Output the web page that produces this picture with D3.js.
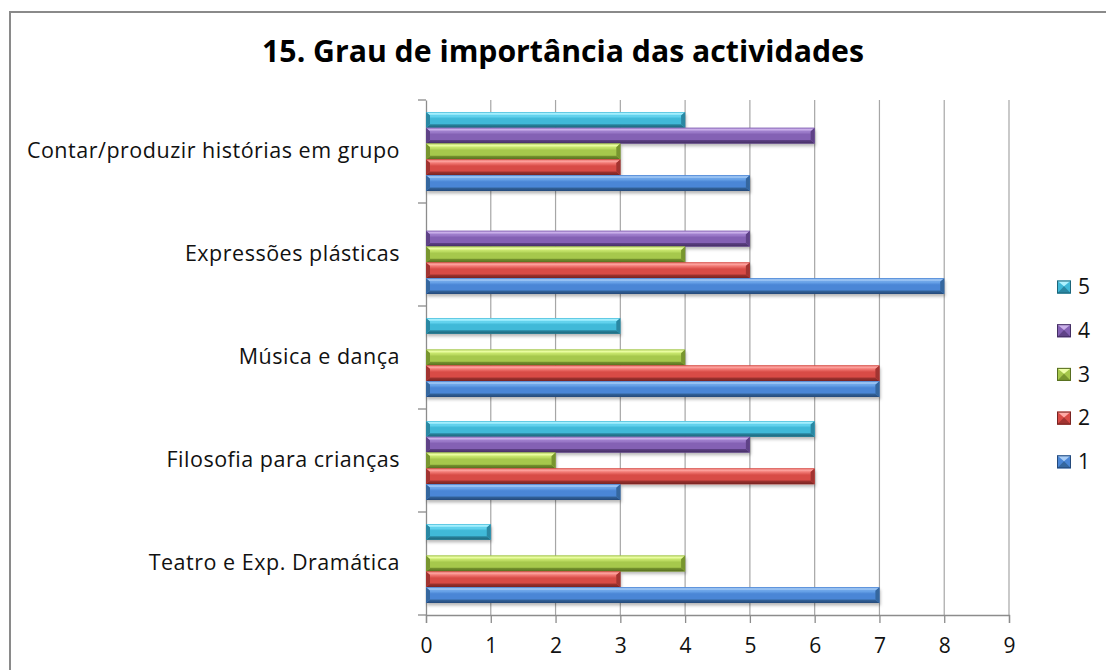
<!DOCTYPE html>
<html>
<head>
<meta charset="utf-8">
<script src="https://cdn.jsdelivr.net/npm/d3@7"></script>
<style>
  html, body { margin: 0; padding: 0; background: #fff; }
  svg { display: block; }
  text { font-family: "Open Sans", Lato, sans-serif; }
</style>
</head>
<body>
<svg id="chart" width="1106" height="670"></svg>
<script>
// Activities, listed top to bottom
const categories = [
  "Contar/produzir histórias em grupo",
  "Expressões plásticas",
  "Música e dança ",
  "Filosofia para crianças",
  "Teatro e Exp. Dramática"
];
// Importance levels (series), bar order top to bottom inside each group
const seriesNames = ["5", "4", "3", "2", "1"];
// Number of answers per level, aligned with categories
const level1 = [5, 8, 7, 3, 7];
const level2 = [3, 5, 7, 6, 3];
const level3 = [3, 4, 4, 2, 4];
const level4 = [6, 5, 0, 5, 0];
const level5 = [4, 0, 3, 6, 1];
const xTicks = [0, 1, 2, 3, 4, 5, 6, 7, 8, 9];
const title = "15. Grau de importância das actividades";

const seriesValues = { "1": level1, "2": level2, "3": level3, "4": level4, "5": level5 };

// Shades for the bevelled bars: [highlight, light, face, dark, edge]
const palette = {
  "1": ["#a9cdf6", "#6fa9ec", "#4a86d6", "#35679f", "#24497a"],
  "2": ["#ffaaa6", "#f27a75", "#d84b46", "#a23431", "#762321"],
  "3": ["#eeffa8", "#cdeb72", "#a6c84c", "#78962f", "#566d20"],
  "4": ["#cbb1ea", "#a585d2", "#8461b4", "#5f4287", "#432e62"],
  "5": ["#aef2ff", "#6fdcf6", "#40b9d8", "#2a88a3", "#1d6478"]
};

const svg = d3.select("#chart");
const defs = svg.append("defs");

const shadow = defs.append("filter").attr("id", "barShadow")
  .attr("x", "-5%").attr("y", "-30%").attr("width", "110%").attr("height", "180%");
shadow.append("feDropShadow").attr("dx", 1).attr("dy", 2.5).attr("stdDeviation", 1.8)
  .attr("flood-color", "#000").attr("flood-opacity", 0.28);

seriesNames.forEach(s => {
  const c = palette[s];
  const g = defs.append("linearGradient").attr("id", "face" + s)
    .attr("x1", 0).attr("y1", 0).attr("x2", 0).attr("y2", 1);
  [[0, c[1]], [0.35, c[2]], [1, c[2]]].forEach(([o, col]) =>
    g.append("stop").attr("offset", o).attr("stop-color", col));
  const t = defs.append("linearGradient").attr("id", "top" + s)
    .attr("x1", 0).attr("y1", 0).attr("x2", 0).attr("y2", 1);
  [[0, c[2]], [0.45, c[0]], [1, c[1]]].forEach(([o, col]) =>
    t.append("stop").attr("offset", o).attr("stop-color", col));
  const b = defs.append("linearGradient").attr("id", "bot" + s)
    .attr("x1", 0).attr("y1", 0).attr("x2", 0).attr("y2", 1);
  [[0, c[3]], [1, c[4]]].forEach(([o, col]) =>
    b.append("stop").attr("offset", o).attr("stop-color", col));
});

// Chart frame
svg.append("rect").attr("x", 10).attr("y", 12).attr("width", 1200).attr("height", 800)
  .attr("fill", "none").attr("stroke", "#8a8a8a").attr("stroke-width", 2);

// Scales
const x = d3.scaleLinear().domain([0, 9]).range([426, 1009]);
const y = d3.scaleBand().domain(categories).range([100, 615]).paddingInner(0).paddingOuter(0);
const inner = d3.scaleBand().domain(seriesNames)
  .range([12, y.bandwidth() - 12]).padding(0);

// Title
svg.append("text").attr("x", 563).attr("y", 62).attr("text-anchor", "middle")
  .attr("font-size", 27).attr("font-weight", "bold").attr("fill", "#000")
  .attr("font-family", "Lato, 'Open Sans', sans-serif")
  .attr("class", "fit").attr("data-w", 602).text(title);

// Vertical gridlines
const grid = svg.append("g");
grid.selectAll("line").data(xTicks.slice(1)).join("line")
  .attr("x1", d => x(d)).attr("x2", d => x(d))
  .attr("y1", 100).attr("y2", 615)
  .attr("stroke", "#a6a6a6").attr("stroke-width", 1.2);

// Bottom value axis
const xAxis = svg.append("g").attr("transform", "translate(0,615)")
  .call(d3.axisBottom(x).tickValues(xTicks).tickSize(8).tickPadding(15).tickFormat(d3.format("d")));
xAxis.select(".domain").attr("stroke", "#8c8c8c").attr("stroke-width", 1.3);
xAxis.selectAll(".tick line").attr("stroke", "#8c8c8c").attr("stroke-width", 1.3);
xAxis.selectAll(".tick text").attr("font-size", 21).attr("fill", "#111")
  .attr("font-family", "'Open Sans', Lato, sans-serif");

// Left category axis
const yAxis = svg.append("g").attr("transform", "translate(426,0)")
  .call(d3.axisLeft(y).tickSize(0).tickPadding(26));
yAxis.select(".domain").attr("stroke", "#8c8c8c").attr("stroke-width", 1.3);
const catLabels = yAxis.selectAll(".tick text").attr("font-size", 21.5).attr("fill", "#111")
  .attr("font-family", "'Open Sans', Lato, sans-serif")
  .attr("dy", "0.32em");
// Spread category labels so the longest one spans its measured width
{
  const first = catLabels.nodes()[0];
  const len = first.getComputedTextLength();
  const n = categories[0].length;
  const ls = (373 - len) / n;
  catLabels.attr("letter-spacing", ls.toFixed(2) + "px");
}
// Category separators
const seps = [...categories.map(c => y(c)), y.range()[1]];
svg.append("g").selectAll("line").data(seps).join("line")
  .attr("x1", 418).attr("x2", 426).attr("y1", d => d).attr("y2", d => d)
  .attr("stroke", "#8c8c8c").attr("stroke-width", 1.3);

// Bevelled bar drawing
function bevelBar(g, s, x0, x1, y0, h) {
  const b = Math.min(4, (x1 - x0) / 3);
  const bv = 3.6;
  const c = palette[s];
  g.append("rect").attr("x", x0).attr("y", y0).attr("width", x1 - x0).attr("height", h)
    .attr("fill", c[2]).attr("filter", "url(#barShadow)");
  g.append("rect").attr("x", x0 + b).attr("y", y0 + bv).attr("width", Math.max(0, x1 - x0 - 2 * b))
    .attr("height", h - 2 * bv).attr("fill", `url(#face${s})`);
  // top facet
  g.append("polygon").attr("points", [[x0, y0], [x1, y0], [x1 - b, y0 + bv], [x0 + b, y0 + bv]].join(" "))
    .attr("fill", `url(#top${s})`);
  // bottom facet
  g.append("polygon").attr("points", [[x0 + b, y0 + h - bv], [x1 - b, y0 + h - bv], [x1, y0 + h], [x0, y0 + h]].join(" "))
    .attr("fill", `url(#bot${s})`);
  // left facet
  g.append("polygon").attr("points", [[x0, y0], [x0 + b, y0 + bv], [x0 + b, y0 + h - bv], [x0, y0 + h]].join(" "))
    .attr("fill", c[3]);
  // right facet
  g.append("polygon").attr("points", [[x1, y0], [x1, y0 + h], [x1 - b, y0 + h - bv], [x1 - b, y0 + bv]].join(" "))
    .attr("fill", c[3]);
}

const bars = svg.append("g");
categories.forEach((cat, i) => {
  seriesNames.forEach(s => {
    const v = seriesValues[s][i];
    if (!v) return;
    const g = bars.append("g");
    bevelBar(g, s, x(0), x(v), y(cat) + inner(s), inner.bandwidth());
  });
});

// Legend
const legend = svg.append("g");
seriesNames.forEach((s, i) => {
  const ly = 287 + i * 43.7;
  const g = legend.append("g");
  const c = palette[s];
  const x0 = 1057, w = 14, h = 13, t = ly - h / 2;
  g.append("rect").attr("x", x0).attr("y", t).attr("width", w).attr("height", h).attr("fill", c[2]);
  g.append("polygon").attr("points", [[x0, t], [x0 + w, t], [x0 + w / 2, t + h * 0.45]].join(" ")).attr("fill", c[0]);
  g.append("polygon").attr("points", [[x0, t + h], [x0 + w, t + h], [x0 + w / 2, t + h * 0.45]].join(" ")).attr("fill", c[3]);
  g.append("rect").attr("x", x0 + 0.5).attr("y", t + 0.5).attr("width", w - 1).attr("height", h - 1)
    .attr("fill", "none").attr("stroke", c[4]).attr("stroke-width", 1);
  g.append("text").attr("x", 1078).attr("y", ly).attr("dy", "0.35em")
    .attr("font-size", 21).attr("fill", "#111").text(s);
});

// Fit title width
svg.selectAll("text.fit").each(function () {
  const el = d3.select(this);
  const target = +el.attr("data-w");
  const len = this.getComputedTextLength();
  if (len > 0) el.attr("font-size", +el.attr("font-size") * target / len);
});
</script>
</body>
</html>
